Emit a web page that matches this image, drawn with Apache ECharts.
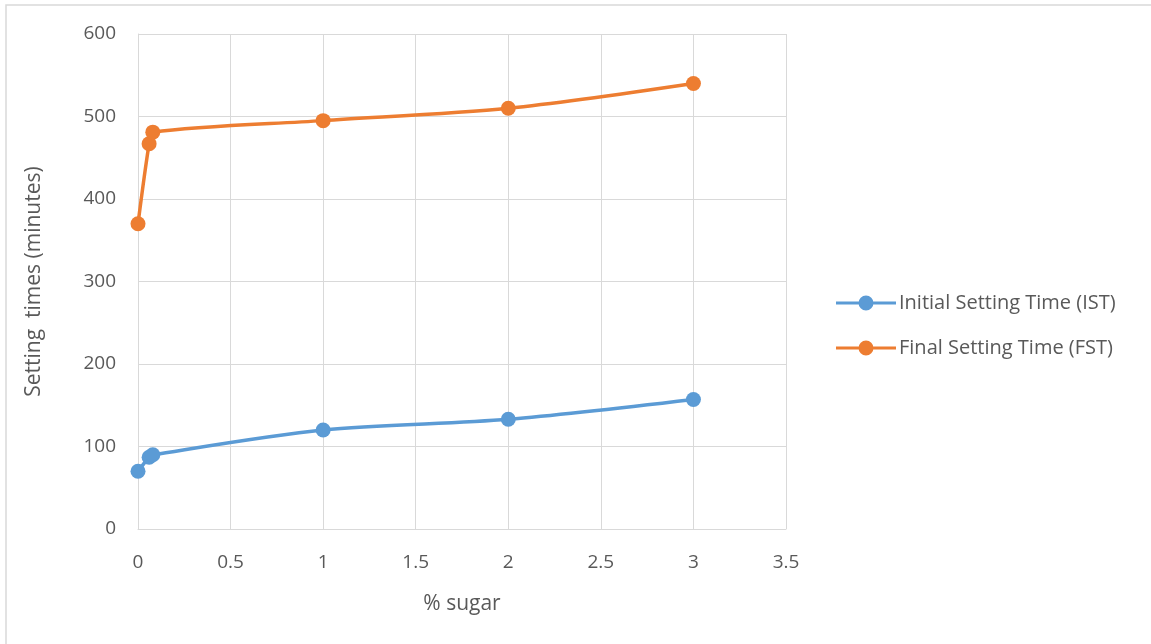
<!DOCTYPE html>
<html><head><meta charset="utf-8">
<script src="https://cdn.jsdelivr.net/npm/echarts@6/dist/echarts.min.js"></script>
<style>html,body{margin:0;padding:0;background:#fff}#c{width:1151px;height:644px}</style>
</head><body><div id="c"></div>
<script>
const sugar = [0, 0.06, 0.08, 1, 2, 3];
const ist = [70, 87, 90, 120, 133, 157];
const fst = [370, 467, 481, 495, 510, 540];
const seriesNames = ['Initial Setting Time (IST)', 'Final Setting Time (FST)'];
const colors = ['#5B9BD5', '#ED7D31'];
const font = "'Open Sans'";
const chart = echarts.init(document.getElementById('c'));
const mk = (vals) => sugar.map((x, i) => [x, vals[i]]);
chart.setOption({
  animation: false,
  backgroundColor: '#fff',
  graphic: [{type: 'rect', shape: {x: 6, y: 5, width: 1200, height: 700}, style: {fill: 'none', stroke: '#d9d9d9', lineWidth: 1.5}, silent: true}],
  grid: {left: 138, right: 365, top: 34, bottom: 115},
  xAxis: {type: 'value', min: 0, max: 3.5, interval: 0.5,
    name: '% sugar', nameLocation: 'middle', nameGap: 65,
    nameTextStyle: {color: '#595959', fontSize: 21, fontFamily: font},
    axisLine: {show: true, lineStyle: {color: '#d9d9d9'}}, axisTick: {show: false},
    axisLabel: {color: '#595959', fontSize: 19, fontFamily: font, margin: 24},
    splitLine: {show: true, lineStyle: {color: '#d9d9d9', width: 1}}},
  yAxis: {type: 'value', min: 0, max: 600, interval: 100,
    name: 'Setting  times (minutes)', nameLocation: 'middle', nameGap: 93,
    nameTextStyle: {color: '#595959', fontSize: 21, fontFamily: font},
    axisLine: {show: true, lineStyle: {color: '#d9d9d9'}}, axisTick: {show: false},
    axisLabel: {color: '#595959', fontSize: 19, fontFamily: font, margin: 22},
    splitLine: {show: true, lineStyle: {color: '#d9d9d9', width: 1}}},
  legend: {orient: 'vertical', left: 831, top: 288, itemGap: 25, itemWidth: 60, itemHeight: 15,
    textStyle: {color: '#595959', fontSize: 20, fontFamily: font, padding: [0, 0, 0, -2]},
    data: seriesNames.map(n => ({name: n, icon: 'path://M0,6 L60,6 L60,9 L0,9 Z M30,0 A7.5,7.5 0 1,1 30,15 A7.5,7.5 0 1,1 30,0 Z'}))},
  series: [
    {name: seriesNames[0], type: 'line', smooth: 0.3, data: mk(ist), color: colors[0],
      symbol: 'circle', symbolSize: 15, lineStyle: {width: 3.5}, itemStyle: {color: colors[0]}},
    {name: seriesNames[1], type: 'line', smooth: 0.3, data: mk(fst), color: colors[1],
      symbol: 'circle', symbolSize: 15, lineStyle: {width: 3.5}, itemStyle: {color: colors[1]}}
  ]
});
</script></body></html>
